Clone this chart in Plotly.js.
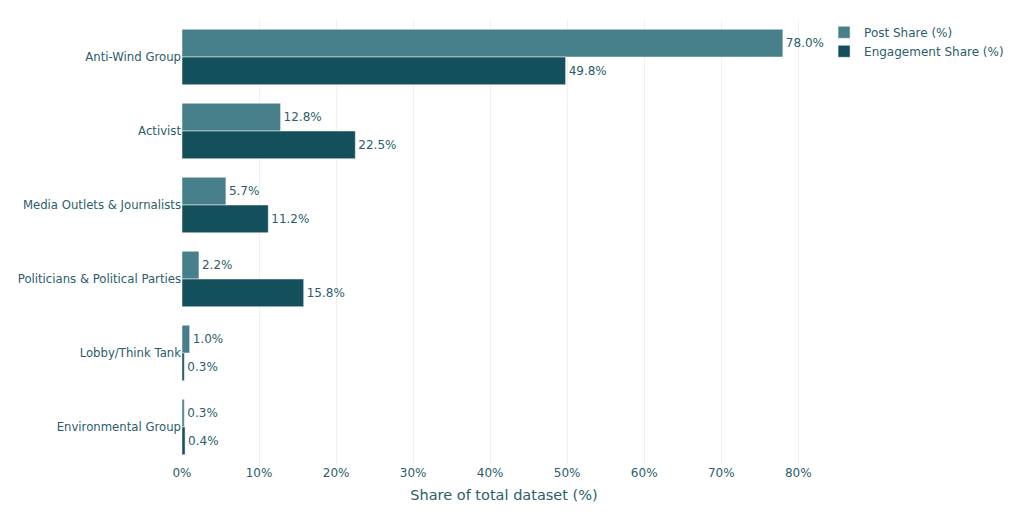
<!DOCTYPE html>
<html><head><meta charset="utf-8">
<script src="https://cdn.plot.ly/plotly-3.0.1.min.js"></script>
<style>html,body{margin:0;padding:0;background:#fff}#chart{width:1036px;height:522px}</style>
</head><body><div id="chart"></div>
<script>
var categories = ["Anti-Wind Group","Activist","Media Outlets & Journalists","Politicians & Political Parties","Lobby/Think Tank","Environmental Group"];
var postShare = [78.0, 12.8, 5.7, 2.2, 1.0, 0.3];
var engagementShare = [49.8, 22.5, 11.2, 15.8, 0.3, 0.4];
var tickVals = [0,10,20,30,40,50,60,70,80];
var tickText = ["0%","10%","20%","30%","40%","50%","60%","70%","80%"];

var txt = '#2b5d6b';
var font = {family:'DejaVu Sans, Verdana, sans-serif', size:12, color:txt};
var traces = [
 {type:'bar', orientation:'h', name:'Post Share (%)', y:categories, x:postShare,
  marker:{color:'#477f8b', line:{color:'#ffffff', width:0.5}},
  text:postShare.map(function(v){return v.toFixed(1)+'%';}), textposition:'outside', cliponaxis:false,
  textfont:{family:font.family,size:12,color:txt}},
 {type:'bar', orientation:'h', name:'Engagement Share (%)', y:categories, x:engagementShare,
  marker:{color:'#144f5c', line:{color:'#ffffff', width:0.5}},
  text:engagementShare.map(function(v){return v.toFixed(1)+'%';}), textposition:'outside', cliponaxis:false,
  textfont:{family:font.family,size:12,color:txt}}
];
var layout = {
 width:1036, height:522, font:font,
 paper_bgcolor:'#ffffff', plot_bgcolor:'#ffffff',
 margin:{l:182, r:210, t:20, b:58},
 barmode:'group', bargap:0.25, bargroupgap:0,
 xaxis:{range:[0,83.6], tickvals:tickVals, ticktext:tickText, showgrid:true, gridcolor:'#eef1f4',
   zeroline:false, showline:false, ticks:'', tickfont:{size:12,color:txt},
   title:{text:'Share of total dataset (%)', font:{size:14.5,color:txt}, standoff:10}},
 yaxis:{autorange:'reversed', showgrid:false, zeroline:false, ticks:'', tickfont:{size:11.7,color:txt}},
 legend:{x:0.997, xanchor:'left', y:1.005, yanchor:'top', font:{size:12,color:txt}, bgcolor:'rgba(0,0,0,0)'},
 showlegend:true
};
Plotly.newPlot('chart', traces, layout, {displayModeBar:false});
</script></body></html>
